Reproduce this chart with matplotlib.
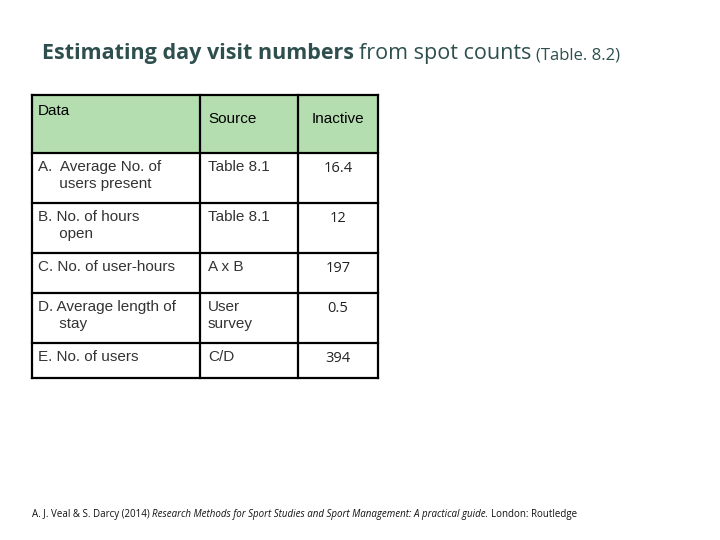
import matplotlib
matplotlib.use("Agg")
import matplotlib.pyplot as plt
from matplotlib.patches import Rectangle

headers = ["Data", "Source", "Inactive"]
data_col = ["A.  Average No. of\n     users present", "B. No. of hours\n     open", "C. No. of user-hours",
            "D. Average length of\n     stay", "E. No. of users"]
source_col = ["Table 8.1", "Table 8.1", "A x B", "User\nsurvey", "C/D"]
values = ["16.4", "12", "197", "0.5", "394"]

W, H = 720, 540
fig = plt.figure(figsize=(7.2, 5.4), dpi=100)
ax = fig.add_axes([0, 0, 1, 1])
ax.set_xlim(0, W); ax.set_ylim(H, 0); ax.axis("off")

cols = [32, 200, 298, 378]
rows = [95, 153, 203, 253, 293, 343, 378]

ax.add_patch(Rectangle((cols[0], rows[0]), cols[-1]-cols[0], rows[1]-rows[0], facecolor="#B4DEB0", edgecolor="none"))
for x in cols:
    ax.plot([x, x], [rows[0], rows[-1]], color="black", lw=1.6, solid_capstyle="projecting")
for y in rows:
    ax.plot([cols[0], cols[-1]], [y, y], color="black", lw=1.6, solid_capstyle="projecting")

tf = dict(family="Liberation Sans", fontsize=11)
ax.text(cols[0]+6, rows[0]+16, headers[0], va="top" if False else "center", color="black", **tf)
ax.text(cols[1]+8, rows[0]+24, headers[1], va="center", color="black", **tf)
ax.text((cols[2]+cols[3])/2, rows[0]+24, headers[2], va="center", ha="center", color="black", **tf)
for i in range(5):
    top = rows[i+1]
    ax.text(cols[0]+6, top+7, data_col[i], va="top", color="#333333", linespacing=1.3, **tf)
    ax.text(cols[1]+8, top+7, source_col[i], va="top", color="#333333", linespacing=1.3, **tf)
    ax.text((cols[2]+cols[3])/2, top+16, values[i], va="center", ha="center", color="#222222",
            family="Open Sans", fontsize=10.5)

title_col = "#2F4F4F"
t1 = ax.text(42, 53, "Estimating day visit numbers", family="Open Sans", fontweight="bold",
             fontsize=15.5, color=title_col, va="center")
fig.canvas.draw()
bb = t1.get_window_extent()
x2 = bb.x1
ax.text(x2 + 5, 53, "from spot counts", family="Open Sans", fontsize=15.5, color=title_col, va="center")
t2 = ax.texts[-1]
fig.canvas.draw()
bb2 = t2.get_window_extent()
ax.text(bb2.x1 + 5, 55, "(Table. 8.2)", family="Open Sans", fontsize=12, color=title_col, va="center")

ax.text(32, 515, "A. J. Veal & S. Darcy (2014) ", family="Open Sans", fontsize=7, color="#111111", va="center")
fig.canvas.draw()
b = ax.texts[-1].get_window_extent()
ax.text(b.x1, 515, "Research Methods for Sport Studies and Sport Management: A practical guide.",
        family="Open Sans", style="italic", fontsize=7, color="#111111", va="center")
fig.canvas.draw()
b = ax.texts[-1].get_window_extent()
ax.text(b.x1 + 3, 515, "London: Routledge", family="Open Sans", fontsize=7, color="#111111", va="center")

fig.savefig("out.png", dpi=100)
